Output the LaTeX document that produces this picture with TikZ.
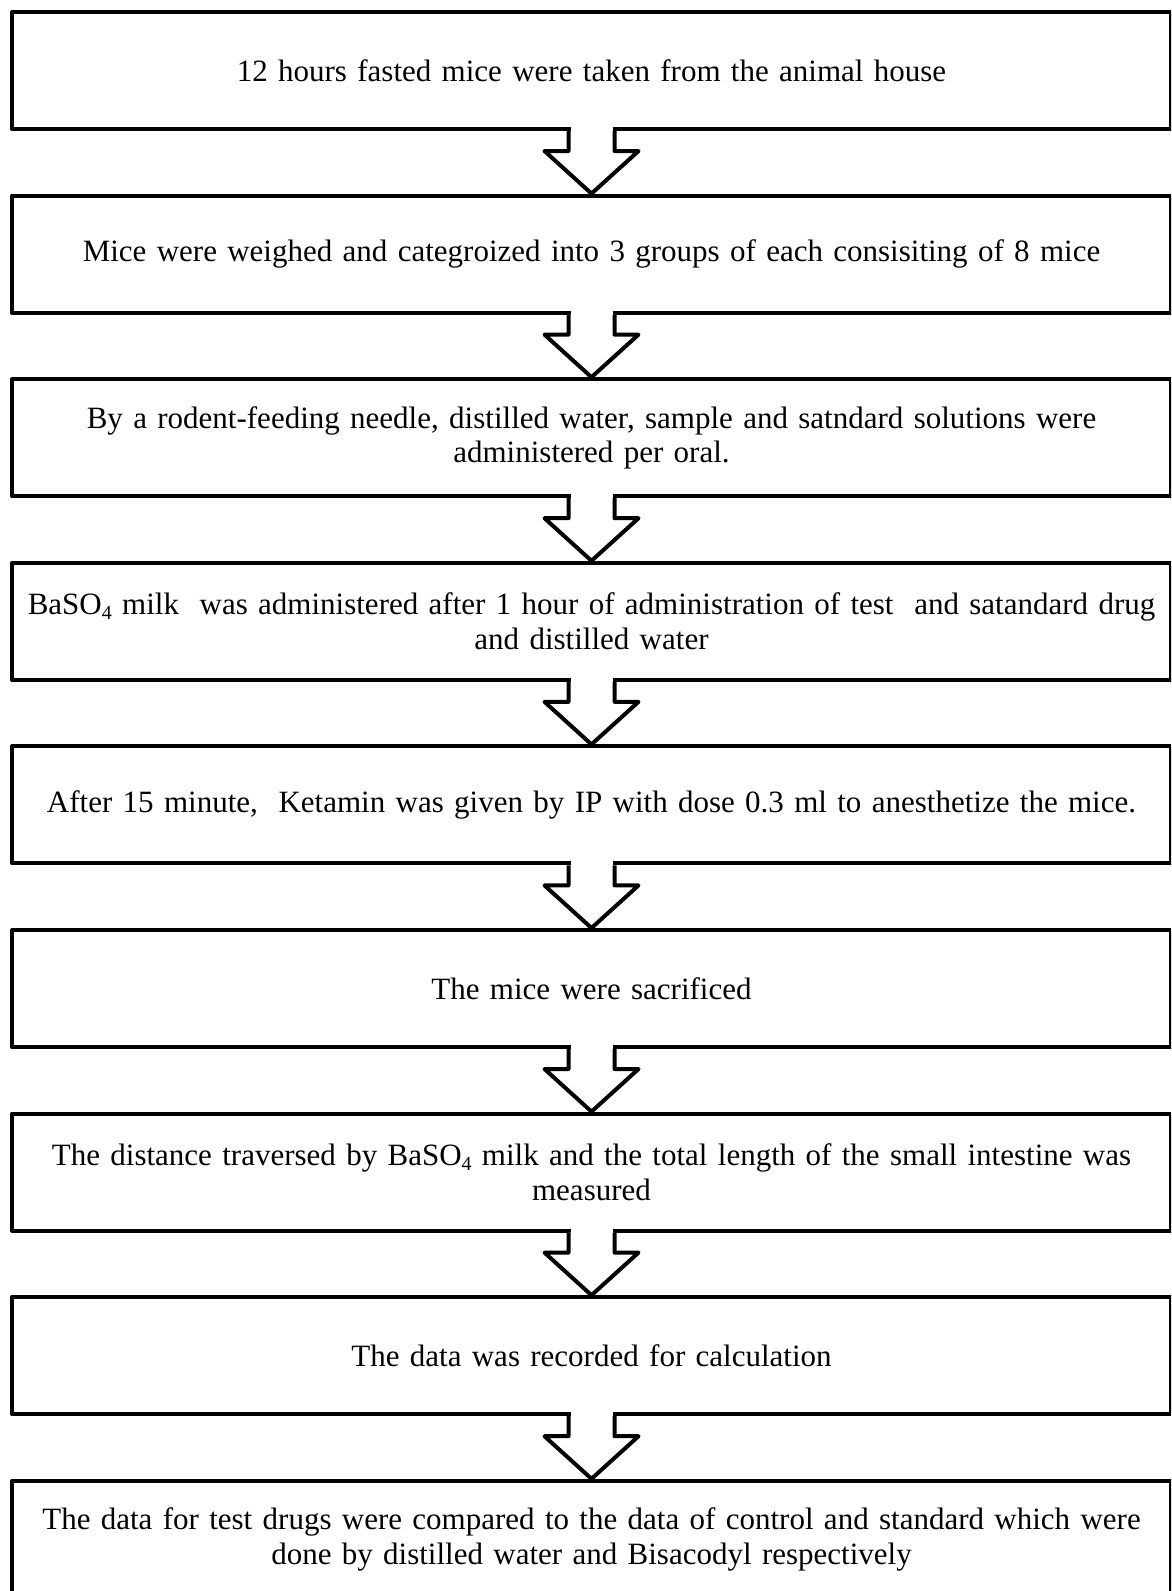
\documentclass[tikz,border=0pt]{standalone}
\usepackage{fontspec}
\setmainfont{Liberation Serif}
\usetikzlibrary{calc}
\newcommand{\subfour}{{\fontsize{20}{20}\selectfont\raisebox{-5pt}{4}}}
\begin{document}
\begin{tikzpicture}[x=1pt,y=-1pt,
  stepbox/.style={draw=black, line width=4pt, line join=round, rectangle,
    minimum width=1159pt, minimum height=117pt, inner sep=0pt, anchor=north west,
    align=center, text width=1150pt, font=\fontsize{31}{34.5}\selectfont},
  blockarrow/.style={draw=black, line width=4pt, line join=round, fill=white}]
\useasboundingbox (0,0) rectangle (1171,1591);
\clip (0,0) rectangle (1171,1591);
\def\pitch{183.6}
\node[stepbox] (b1) at (10,10) {12 hours fasted mice were taken from the animal house};
\node[stepbox] (b2) at (10,10+\pitch) {Mice were weighed and categroized into 3 groups of each consisiting of 8 mice};
\node[stepbox] (b3) at (10,10+2*\pitch) {By a rodent-feeding needle, distilled water, sample and satndard solutions were\\ administered per oral.};
\node[stepbox] (b4) at (10,10+3*\pitch) {BaSO\subfour\ milk\ \ was administered after 1 hour of administration of test\ \ and satandard drug\\ and distilled water};
\node[stepbox] (b5) at (10,10+4*\pitch) {After 15 minute,\ \ Ketamin was given by IP with dose 0.3 ml to anesthetize the mice.};
\node[stepbox] (b6) at (10,10+5*\pitch) {The mice were sacrificed};
\node[stepbox] (b7) at (10,10+6*\pitch) {The distance traversed by BaSO\subfour\ milk and the total length of the small intestine was\\ measured};
\node[stepbox] (b8) at (10,10+7*\pitch) {The data was recorded for calculation};
\node[stepbox] (b9) at (10,10+8*\pitch) {The data for test drugs were compared to the data of control and standard which were\\ done by distilled water and Bisacodyl respectively};
\foreach \a/\b in {b1/b2,b2/b3,b3/b4,b4/b5,b5/b6,b6/b7,b7/b8,b8/b9}{
  \fill[white] ($(\a.south)+(-21,-4)$) rectangle ($(\a.south)+(21,4)$);
  \draw[blockarrow] ($(\a.south)+(-23,0)$) -- ($(\a.south)+(-23,20)$) -- ($(\a.south)+(-47,20)$)
     -- (\b.north) -- ($(\a.south)+(47,20)$) -- ($(\a.south)+(23,20)$) -- ($(\a.south)+(23,0)$);
}
\end{tikzpicture}
\end{document}
